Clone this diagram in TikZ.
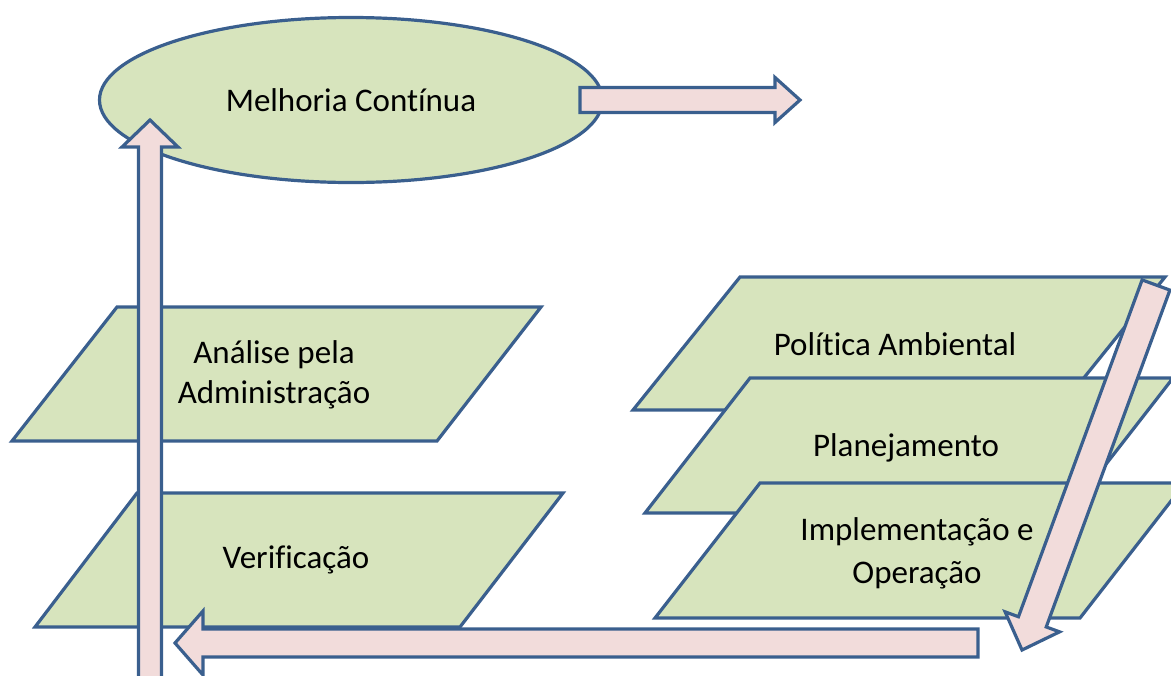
\documentclass[tikz,border=0pt]{standalone}
\usepackage{fontspec}
\setmainfont{Carlito}[Ligatures={NoCommon}]
\usetikzlibrary{shapes.geometric,calc}

\definecolor{slabgreen}{HTML}{D7E4BD}
\definecolor{edgeblue}{HTML}{3A5F8E}
\definecolor{arrowpink}{HTML}{F2DCDB}

\tikzset{
  slab/.style={fill=slabgreen, draw=edgeblue, line width=1.6pt},
  arrowbox/.style={fill=arrowpink, draw=edgeblue, line width=1.6pt, line join=miter},
  slabtext/.style={align=center, inner sep=0pt, font=\fontsize{16.5}{20}\selectfont}
}

% block arrow: start, tip, half shaft, half head, head length
\newcommand{\blockarrow}[5]{%
  \coordinate (hb) at ($(#2)!#5!(#1)$);
  \draw[arrowbox] ($(#1)!#3!90:(#2)$) -- ($(hb)!#3!-90:(#1)$) -- ($(hb)!#4!-90:(#1)$)
    -- (#2) -- ($(hb)!#4!90:(#1)$) -- ($(hb)!#3!90:(#1)$) -- ($(#1)!#3!-90:(#2)$) -- cycle;
}

\begin{document}
\begin{tikzpicture}[x=0.5pt, y=-0.5pt, line width=1.6pt]
    \useasboundingbox (0, 0) rectangle (1171, 675);

    % draw left slabs
    \filldraw[slab] (117, 307) -- (541, 307) -- (437, 441) -- (12, 441) -- cycle;
    \filldraw[slab] (137, 493) -- (563, 493) -- (460, 627) -- (35, 627) -- cycle;
    \node[slabtext] (analise) at (274, 375) {Análise pela\\Administração};
    \node[slabtext] (verificacao) at (296, 560) {Verificação};

    % draw right slabs, stacked
    \filldraw[slab] (740, 277) -- (1165, 277) -- (1058, 410) -- (633, 410) -- cycle;
    \node[slabtext] (politica) at (895, 344) {Política Ambiental};
    \filldraw[slab] (750, 378) -- (1173, 378) -- (1068, 513) -- (645, 513) -- cycle;
    \node[slabtext] (planejamento) at (906, 448) {Planejamento};
    \filldraw[slab] (760, 483) -- (1185, 483) -- (1080, 618) -- (655, 618) -- cycle;
    \node[slabtext, font=\fontsize{16.5}{21.5}\selectfont] (implementacao) at (917, 553) {Implementação e\\Operação};

    % draw ellipse
    \node[ellipse, slab, slabtext, minimum width=251.5pt, minimum height=82.5pt] (melhoria) at (351, 100) {Melhoria Contínua};

    % arrow end points
    \coordinate (upstart) at (150, 690);
    \coordinate (uptip) at (150, 120);
    \coordinate (outstart) at (580, 100);
    \coordinate (outtip) at (800, 100);
    \coordinate (backstart) at (978, 643);
    \coordinate (backtip) at (175, 643);
    \coordinate (downstart) at (1156, 285);
    \coordinate (downtip) at (1022, 650);

    % draw block arrows
    \blockarrow{upstart}{uptip}{5.75pt}{14pt}{13.5pt}
    \blockarrow{outstart}{outtip}{6.25pt}{11.25pt}{12.5pt}
    \blockarrow{backstart}{backtip}{7pt}{16pt}{14pt}
    \blockarrow{downstart}{downtip}{7.4pt}{14.5pt}{15pt}

\end{tikzpicture}
\end{document}
